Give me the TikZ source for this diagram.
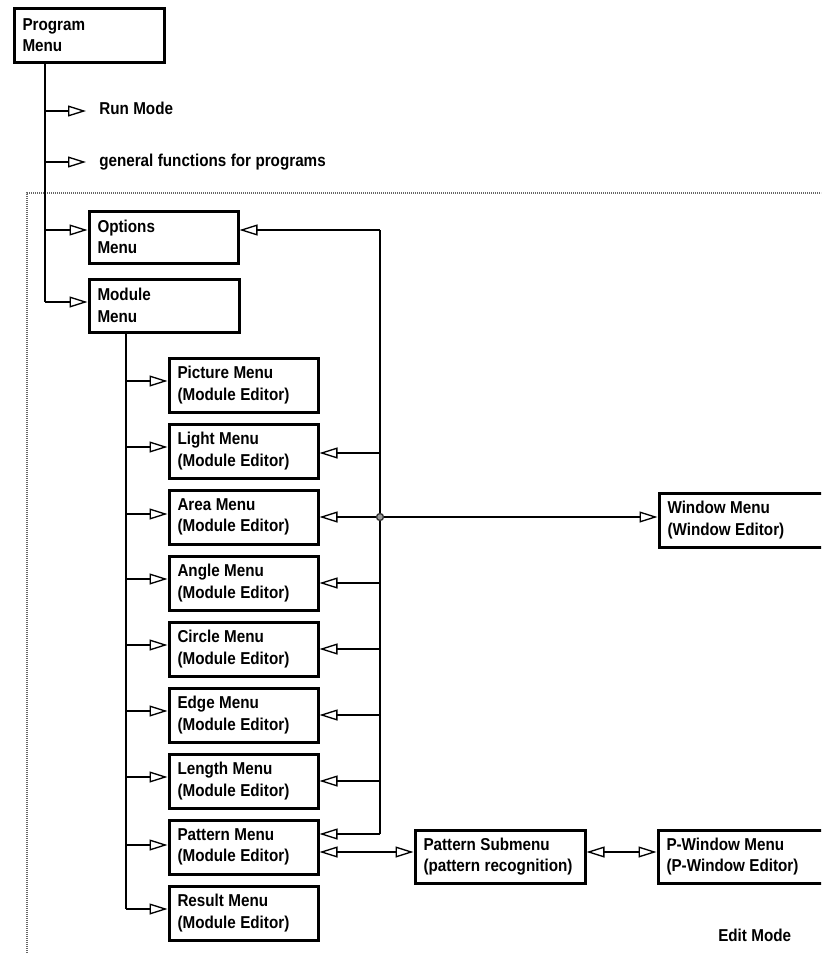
\documentclass[tikz,border=0pt]{standalone}
\usepackage{fontspec}
\setmainfont{Liberation Sans}[FakeStretch=0.885, WordSpace=1.05]
\usetikzlibrary{arrows.meta}
\begin{document}
\begin{tikzpicture}[x=0.75pt, y=-0.75pt,
  txt/.style={font=\bfseries\fontsize{12.9}{16.1}\selectfont},
  box/.style={txt, draw, line width=2.25pt, anchor=north west, align=flush left,
    inner xsep=6.375pt, inner ysep=0pt, minimum height=40.5pt, text width=99pt},
  lbl/.style={txt, anchor=base west, inner ysep=0pt, inner xsep=9.75pt},
  conn/.style={line width=1.5pt},
  tip/.tip={Triangle[open, length=13.5pt, width=8.2pt, line width=1pt]},
  arr/.style={conn, -tip},
  dbl/.style={line width=1pt, tip-tip},
  frame/.style={draw=black!60, line width=1.3pt, dash pattern=on 0.75pt off 0.75pt}
]
\path[use as bounding box] (0,0) rectangle (821,953);
\clip (0,0) rectangle (821,953);

% dotted frame (open to the right and bottom)
\draw[frame] (830,193) -- (27,193) -- (27,960);

% boxes
\node[box, text width=99.75pt, minimum height=40.5pt] (prog) at (12.5,6.5) {Program\\Menu};
\node[box, minimum height=39pt] (opts) at (87.5,209.5) {Options\\Menu};
\node[box, text width=99.75pt, minimum height=39.75pt] (modm) at (87.5,277.5) {Module\\Menu};

\node[box] (pic) at (167.5,356.5) {Picture Menu\\(Module Editor)};
\node[box] (lig) at (167.5,422.5) {Light Menu\\(Module Editor)};
\node[box] (are) at (167.5,488.5) {Area Menu\\(Module Editor)};
\node[box] (ang) at (167.5,554.5) {Angle Menu\\(Module Editor)};
\node[box] (cir) at (167.5,620.5) {Circle Menu\\(Module Editor)};
\node[box] (edg) at (167.5,686.5) {Edge Menu\\(Module Editor)};
\node[box] (len) at (167.5,752.5) {Length Menu\\(Module Editor)};
\node[box] (pat) at (167.5,818.5) {Pattern Menu\\(Module Editor)};
\node[box] (res) at (167.5,884.5) {Result Menu\\(Module Editor)};

\node[box, text width=114.75pt, minimum height=39.75pt] (patsub) at (413.5,828.5) {Pattern Submenu\\(pattern recognition)};
\node[box, text width=137.25pt, minimum height=40.5pt] (win) at (657.5,491.5) {Window Menu\\(Window Editor)};
\node[box, text width=137.25pt, minimum height=39.75pt] (pwin) at (656.5,828.5) {P-Window Menu\\(P-Window Editor)};

% plain labels
\node[lbl] (run) at (86,114.5) {Run Mode};
\node[lbl] (gen) at (86,166) {general functions for programs};
\node[lbl, inner xsep=0pt] (edit) at (718,941) {Edit Mode};

% main trunk
\coordinate (tA) at (45,111);
\coordinate (tB) at (45,162);
\coordinate (tC) at (45,230);
\coordinate (tD) at (45,302);
\draw[conn] (tA |- prog.south) -- (tD);
\draw[arr] (tA) -- (tA -| run.west);
\draw[arr] (tB) -- (tB -| gen.west);
\draw[arr] (tC) -- (tC -| opts.west);
\draw[arr] (tD) -- (tD -| modm.west);

% module trunk
\coordinate (m0) at (126,381);
\coordinate (m1) at (126,447);
\coordinate (m2) at (126,514);
\coordinate (m3) at (126,579);
\coordinate (m4) at (126,645);
\coordinate (m5) at (126,711);
\coordinate (m6) at (126,777);
\coordinate (m7) at (126,845);
\coordinate (m8) at (126,909);
\draw[conn] (m0 |- modm.south) -- (m8);
\draw[arr] (m0) -- (m0 -| pic.west);
\draw[arr] (m1) -- (m1 -| lig.west);
\draw[arr] (m2) -- (m2 -| are.west);
\draw[arr] (m3) -- (m3 -| ang.west);
\draw[arr] (m4) -- (m4 -| cir.west);
\draw[arr] (m5) -- (m5 -| edg.west);
\draw[arr] (m6) -- (m6 -| len.west);
\draw[arr] (m7) -- (m7 -| pat.west);
\draw[arr] (m8) -- (m8 -| res.west);

% right-hand return line
\coordinate (r0) at (380,230);
\coordinate (r1) at (380,453);
\coordinate (r2) at (380,517);
\coordinate (r3) at (380,583);
\coordinate (r4) at (380,649);
\coordinate (r5) at (380,715);
\coordinate (r6) at (380,781);
\coordinate (r7) at (380,834);
\draw[conn] (r0) -- (r7);
\draw[arr] (r0) -- (r0 -| opts.east);
\draw[arr] (r1) -- (r1 -| lig.east);
\draw[arr] (r2) -- (r2 -| are.east);
\draw[arr] (r3) -- (r3 -| ang.east);
\draw[arr] (r4) -- (r4 -| cir.east);
\draw[arr] (r5) -- (r5 -| edg.east);
\draw[arr] (r6) -- (r6 -| len.east);
\draw[arr] (r7) -- (r7 -| pat.east);
\draw[arr] (r2) -- (r2 -| win.west);
\filldraw[fill=black!40, draw=black!80, line width=1pt] (r2) circle[radius=2.6pt];

% pattern chain
\coordinate (d1) at (0,852);
\draw[dbl] (d1 -| pat.east) -- (d1 -| patsub.west);
\draw[dbl] (d1 -| patsub.east) -- (d1 -| pwin.west);
\end{tikzpicture}
\end{document}
